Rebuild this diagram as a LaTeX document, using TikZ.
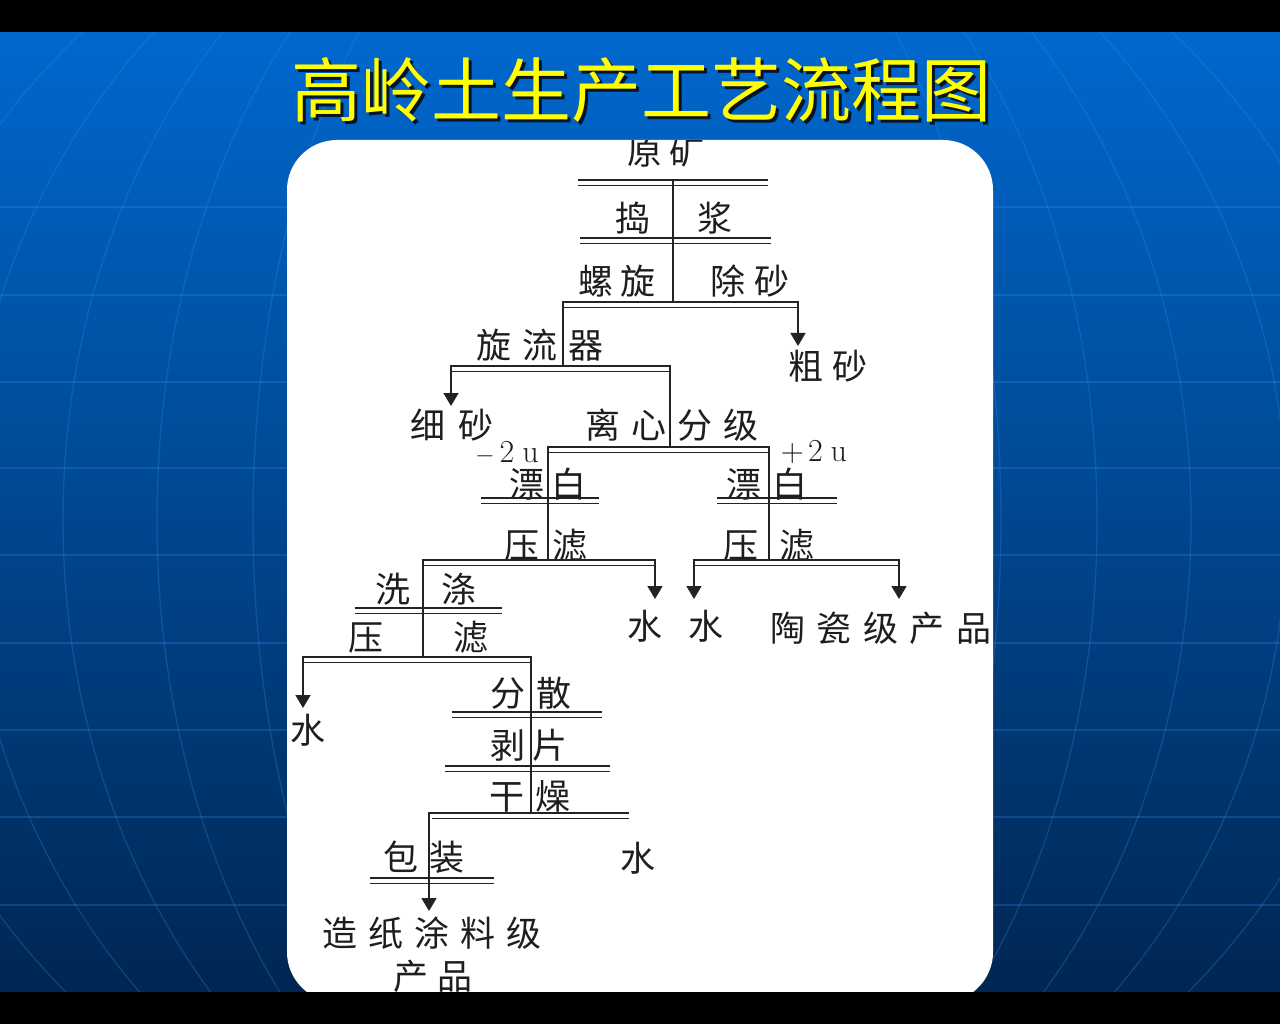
\documentclass[tikz,border=0pt]{standalone}
\usepackage{fontspec}
\newfontfamily\cjk{Noto Sans CJK SC}
\usetikzlibrary{arrows.meta}
\definecolor{bgtop}{RGB}{0,104,206}
\definecolor{bgbot}{RGB}{0,38,82}
\definecolor{gridc}{RGB}{50,140,235}
\definecolor{linec}{RGB}{35,35,35}
\definecolor{txtc}{RGB}{30,30,30}
\definecolor{ttl}{RGB}{255,255,0}
\definecolor{shd}{RGB}{10,20,40}
\begin{document}
\begin{tikzpicture}[x=1pt,y=-1pt,
  ln/.style={line width=1.7pt,draw=linec,line join=miter},
  arr/.style={ln,-{Triangle[width=15pt,length=13pt]}},
  arrb/.style={ln,{Triangle[width=15pt,length=13pt]}-{Triangle[width=15pt,length=13pt]}},
  lab/.style={font=\cjk\fontsize{35}{40}\selectfont,text=txtc,inner sep=0pt},
  num/.style={font=\fontsize{32}{36}\selectfont,text=txtc,inner sep=0pt},
  gridln/.style={draw=gridc,line width=1.3pt,opacity=0.28},
  ttlfont/.style={font=\cjk\fontsize{70}{74}\selectfont,inner sep=0pt}]
\useasboundingbox (0,0) rectangle (1280,1024);
% background
\fill[top color=bgtop,bottom color=bgbot] (0,32) rectangle (1280,992);
\begin{scope}
  \clip (0,32) rectangle (1280,992);
  \foreach \yy in {207,295,382,468,555,643,730,817,905}
    \draw[gridln] (0,\yy) -- (1280,\yy);
  \foreach \aa in {374,470,564,660,760}
    \draw[gridln] (627,520) ellipse [x radius=\aa, y radius=700];
\end{scope}
% title with drop shadow
\node[ttlfont,text=shd] (titleshadow) at (644,93) {高岭土生产工艺流程图};
\node[ttlfont,text=ttl] (title) at (641,90) {高岭土生产工艺流程图};
% white panel
\fill[white,rounded corners=50pt] (287,140) rectangle (993,1002);
\begin{scope}
  \clip[rounded corners=50pt] (287,140) rectangle (993,1002);
  % labels
  \node[lab] (yk) at (666,151) {原\hspace{8pt}矿};
  \node[lab] (dj) at (674,218) {捣\hspace{47pt}浆};
  \node[lab] (lx) at (617,281) {螺\hspace{8pt}旋};
  \node[lab] (cs) at (750,281) {除\hspace{10pt}砂};
  \node[lab] (xlq) at (540,345) {旋\hspace{11pt}流\hspace{11pt}器};
  \node[lab] (cus) at (828,366) {粗\hspace{10pt}砂};
  \node[lab] (xis) at (452,425) {细\hspace{13pt}砂};
  \node[lab] (lxfj) at (672,425) {离\hspace{11pt}心\hspace{11pt}分\hspace{11pt}级};
  \node[num] (m2u) at (507,453) {$-$\hspace{5pt}2\hspace{8pt}u};
  \node[num] (p2u) at (814,452) {+\hspace{4pt}2\hspace{8pt}u};
  \node[lab] (pb1) at (548,484) {漂\hspace{8pt}白};
  \node[lab] (yl1) at (546,545) {压\hspace{13pt}滤};
  \node[lab] (pb2) at (767,484) {漂\hspace{11pt}白};
  \node[lab] (yl2) at (769,545) {压\hspace{22pt}滤};
  \node[lab] (xd) at (426,589) {洗\hspace{31pt}涤};
  \node[lab] (yl3) at (418,637) {压\hspace{70pt}滤};
  \node[lab] (w1) at (645,626) {水};
  \node[lab] (w2) at (706,626) {水};
  \node[lab] (tcj) at (881,628) {陶\hspace{11.5pt}瓷\hspace{11.5pt}级\hspace{11.5pt}产\hspace{11.5pt}品};
  \node[lab] (w3) at (308,730) {水};
  \node[lab] (fs) at (531,693) {分\hspace{12pt}散};
  \node[lab] (bp) at (529,745) {剥\hspace{7pt}片};
  \node[lab] (gz) at (530,796) {干\hspace{12pt}燥};
  \node[lab] (w4) at (638,858) {水};
  \node[lab] (bz) at (424,857) {包\hspace{12pt}装};
  \node[lab] (zz) at (432,933) {造\hspace{11pt}纸\hspace{11pt}涂\hspace{11pt}料\hspace{11pt}级};
  \node[lab] (cp) at (433,976) {产\hspace{9pt}品};
  % junction coordinates
  \coordinate (a0) at (673,180);
  \coordinate (a1) at (673,302);
  \coordinate (s1l) at (563,302);
  \coordinate (s1r) at (798,302);
  \coordinate (t1) at (798,346);
  \coordinate (s2l) at (451,366);
  \coordinate (s2r) at (670,366);
  \coordinate (s2m) at (563,366);
  \coordinate (t2) at (451,406);
  \coordinate (s3l) at (548,447);
  \coordinate (s3r) at (769,447);
  \coordinate (s3m) at (670,447);
  \coordinate (s4al) at (423,560);
  \coordinate (s4ar) at (655,560);
  \coordinate (s4am) at (548,560);
  \coordinate (t4a) at (655,599);
  \coordinate (s4bl) at (694,560);
  \coordinate (s4br) at (899,560);
  \coordinate (s4bm) at (769,560);
  \coordinate (t4bl) at (694,599);
  \coordinate (t4br) at (899,599);
  \coordinate (s5l) at (303,657);
  \coordinate (s5r) at (531,657);
  \coordinate (s5m) at (423,657);
  \coordinate (t5) at (303,708);
  \coordinate (s6l) at (429,813);
  \coordinate (s6r) at (629,813);
  \coordinate (s6m) at (531,813);
  \coordinate (t6) at (429,911);
  % double bars (process steps)
  \foreach \xa/\xb/\yy in {578/768/180, 580/771/238, 481/599/498, 717/837/498,
                           355/502/608, 452/602/712, 445/610/766, 370/494/878}
  { \draw[ln] (\xa,\yy) -- (\xb,\yy);
    \draw[ln] (\xa,\yy+5.5) -- (\xb,\yy+5.5); }
  % main stem
  \draw[ln] (a0) -- (a1);
  % split 1: spiral desanding
  \draw[arr] (s2m) -- (s1l) -- (s1r) -- (t1);
  \draw[ln] (563,307.5) -- (798,307.5);
  % split 2: hydrocyclone
  \draw[arr] (s3m) -- (s2r) -- (s2l) -- (t2);
  \draw[ln] (451,371.5) -- (670,371.5);
  % split 3: centrifugal classification
  \draw[ln] (s4am) -- (s3l) -- (s3r) -- (s4bm);
  \draw[ln] (548,452.5) -- (769,452.5);
  % split 4 left
  \draw[arr] (s5m) -- (s4al) -- (s4ar) -- (t4a);
  \draw[ln] (423,565.5) -- (655,565.5);
  % split 4 right
  \draw[arrb] (t4bl) -- (s4bl) -- (s4br) -- (t4br);
  \draw[ln] (694,565.5) -- (899,565.5);
  % split 5
  \draw[arr] (s6m) -- (s5r) -- (s5l) -- (t5);
  \draw[ln] (303,662.5) -- (531,662.5);
  % split 6
  \draw[arr] (s6r) -- (s6l) -- (t6);
  \draw[ln] (432,818.5) -- (629,818.5);
\end{scope}
% black bars
\fill[black] (0,0) rectangle (1280,32);
\fill[black] (0,992) rectangle (1280,1024);
\end{tikzpicture}
\end{document}
